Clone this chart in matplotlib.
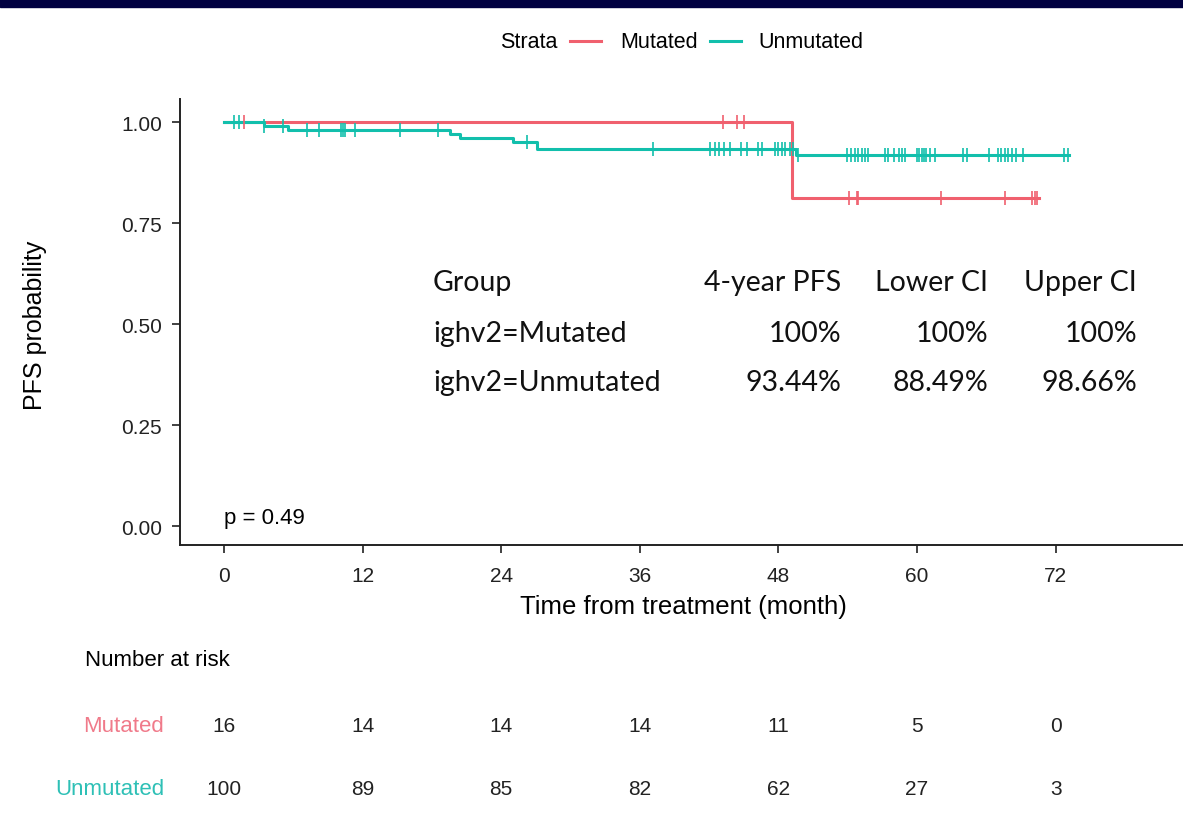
import numpy as np
import matplotlib
matplotlib.use("Agg")
import matplotlib.pyplot as plt
from matplotlib.lines import Line2D
from matplotlib.patches import Rectangle

plt.rcParams['font.family'] = ['Liberation Sans', 'DejaVu Sans']

# ---- data ----
groups = ["Mutated", "Unmutated"]
colors = {"Mutated": "#F0606E", "Unmutated": "#12BFAC"}

# step curves (time in months, survival after the step)
mut_time = [0, 49.2, 70.6]
mut_surv = [1.0, 0.812, 0.812]
unm_time = [0, 3.5, 5.5, 19.6, 20.4, 25.0, 27.1, 49.5, 73.2]
unm_surv = [1.0, 0.99, 0.98, 0.97, 0.96, 0.9497, 0.9344, 0.918, 0.918]

# censoring times
mut_cens = [1.7, 43.2, 44.4, 45.0, 54.1, 54.8, 54.9, 62.1, 67.6, 70.0, 70.2, 70.4]
unm_cens = [0.9, 1.3, 3.5, 5.1, 7.2, 8.2, 10.1, 10.3, 10.5, 11.3, 15.2, 18.5,
            26.2, 37.1, 42.1, 42.5, 42.9, 43.3, 43.8, 44.8, 45.3, 46.2, 46.6,
            47.7, 48.0, 48.3, 48.6, 49.0, 49.3, 49.7, 53.9, 54.3, 54.6, 54.9,
            55.2, 55.5, 55.8, 57.2, 57.5, 58.0, 58.4, 58.7, 59.0, 60.0, 60.2,
            60.4, 60.6, 60.8, 61.1, 61.6, 64.0, 64.3, 66.2, 67.0, 67.3, 67.6,
            67.9, 68.2, 68.6, 69.2, 72.7, 73.1]

risk_times = [0, 12, 24, 36, 48, 60, 72]
risk_mut = [16, 14, 14, 14, 11, 5, 0]
risk_unm = [100, 89, 85, 82, 62, 27, 3]

table_header = ["Group", "4-year PFS", "Lower CI", "Upper CI"]
table_rows = [["ighv2=Mutated", "100%", "100%", "100%"],
              ["ighv2=Unmutated", "93.44%", "88.49%", "98.66%"]]

W, H = 1183, 829
fig = plt.figure(figsize=(W / 100, H / 100), dpi=100)


def fx(px):
    return px / W


def fy(py):
    return 1 - py / H


# dark band at the top
fig.patches.append(Rectangle((0, fy(8)), 1, 8 / H, transform=fig.transFigure,
                             color="#000040", zorder=0))

# main axes: left spine at px 180, bottom at px 546, top at 100
ax = fig.add_axes([fx(180), fy(546), fx(1195) - fx(180), fy(100) - fy(546)])
ax.set_xlim(-3.81, 84.07)
ax.set_ylim(-0.047, 1.057)


def surv_at(times, surv, t):
    i = np.searchsorted(times, t, side='right') - 1
    return np.asarray(surv)[i]


for g, tt, ss, cc in [("Mutated", mut_time, mut_surv, mut_cens),
                      ("Unmutated", unm_time, unm_surv, unm_cens)]:
    ax.step(tt, ss, where='post', color=colors[g], lw=2.2, zorder=3)
    ax.plot(cc, surv_at(tt, ss, cc), ls='none', marker='|', ms=10, mew=1.2,
            color=colors[g], zorder=4)

ax.set_xticks(risk_times)
ax.set_yticks([0, 0.25, 0.5, 0.75, 1.0])
ax.set_yticklabels(["0.00", "0.25", "0.50", "0.75", "1.00"])
ax.tick_params(labelsize=15, length=6, width=1.3, colors="#333333", labelcolor="#222222")
ax.tick_params(axis='x', pad=9)
ax.tick_params(axis='y', pad=7)
for s in ["top", "right"]:
    ax.spines[s].set_visible(False)
for s in ["left", "bottom"]:
    ax.spines[s].set_linewidth(1.4)
    ax.spines[s].set_color("#222222")

fig.text(fx(683), fy(607), "Time from treatment (month)", fontsize=18.5, ha='center', va='center')
fig.text(fx(35), fy(325), "PFS probability", fontsize=18, ha='center', va='center', rotation=90)

ax.text(0, 0.02, "p = 0.49", fontsize=16, ha='left', va='center')

# legend on top, drawn by hand
fig.text(fx(500), fy(42), "Strata", fontsize=15.5, ha='left', va='center')
for g, x0, xt in [("Mutated", 570, 620), ("Unmutated", 710, 758)]:
    fig.add_artist(Line2D([fx(x0), fx(x0 + 31)], [fy(42), fy(42)], color=colors[g], lw=2.2,
                          transform=fig.transFigure))
    fig.text(fx(xt), fy(42), g, fontsize=15.5, ha='left', va='center')

# PFS table inside the plot
tf = {"family": ["Lato", "DejaVu Sans"], "fontsize": 20.5, "color": "#111111"}
rows_y = [283, 334, 383]
col_x = [433, 841, 988, 1137]
for r, row in enumerate([table_header] + table_rows):
    for c, txt in enumerate(row):
        fig.text(fx(col_x[c]), fy(rows_y[r]), txt, ha='left' if c == 0 else 'right',
                 va='center', **tf)

# number at risk
fig.text(fx(85), fy(661), "Number at risk", fontsize=16, ha='left', va='center')
rax = fig.add_axes([fx(180), fy(820), fx(1195) - fx(180), fy(700) - fy(820)])
rax.set_xlim(ax.get_xlim())
rax.set_ylim(0, 1)
rax.axis('off')
label_cols = {"Mutated": "#F07A8A", "Unmutated": "#2EC0B6"}
for g, vals, yy in [("Mutated", risk_mut, 727), ("Unmutated", risk_unm, 790)]:
    yrel = (820 - yy) / 120
    fig.text(fx(164), fy(yy), g, fontsize=16, ha='right', va='center', color=label_cols[g])
    for t, v in zip(risk_times, vals):
        rax.text(t, yrel, str(v), fontsize=15, ha='center', va='center', color="#222222")

fig.savefig("out.png", dpi=100)
